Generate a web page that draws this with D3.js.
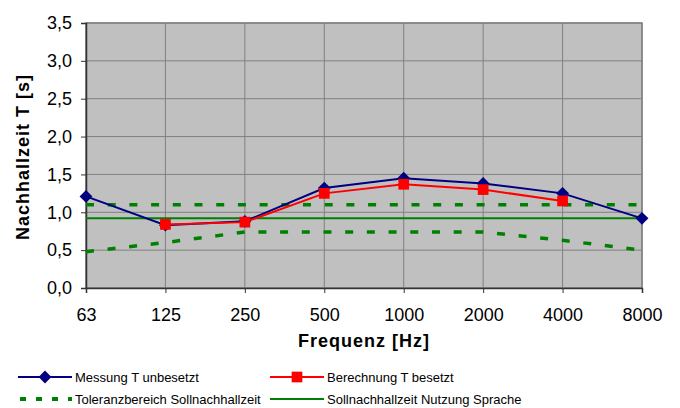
<!DOCTYPE html>
<meta charset="utf-8">
<style>
body { margin: 0; background: #fff; }
text { font-family: "Liberation Sans", Arial, sans-serif; }
</style>
<body>
<script src="https://d3js.org/d3.v7.min.js"></script>
<script>

// data
var freqs = ["63", "125", "250", "500", "1000", "2000", "4000", "8000"];
var messung = [1.21, 0.83, 0.88, 1.32, 1.45, 1.38, 1.25, 0.92];
var berechnung = [null, 0.84, 0.87, 1.25, 1.37, 1.30, 1.15, null];
var tolOben = [1.1, 1.1, 1.1, 1.1, 1.1, 1.1, 1.1, 1.1];
var tolUnten = [0.48, 0.6, 0.74, 0.74, 0.74, 0.74, 0.63, 0.5];
var soll = [0.92, 0.92, 0.92, 0.92, 0.92, 0.92, 0.92, 0.92];
var yTicks = [0, 0.5, 1, 1.5, 2, 2.5, 3, 3.5];

var margin = {top: 23, right: 38, bottom: 120, left: 86},
    width = 680 - margin.left - margin.right,
    height = 408 - margin.top - margin.bottom;

var svg = d3.select("body").append("svg")
    .attr("width", 680)
    .attr("height", 408);

var g = svg.append("g")
    .attr("transform", "translate(" + margin.left + "," + margin.top + ")");

var x = d3.scalePoint().domain(freqs).range([0, width]);
var y = d3.scaleLinear().domain([0, 3.5]).range([height, 0]);

// plot background
g.append("rect")
    .attr("width", width).attr("height", height)
    .attr("fill", "#c0c0c0");

// grid
g.selectAll(".hgrid").data(yTicks).enter().append("line")
    .attr("x1", 0).attr("x2", width)
    .attr("y1", function(d) { return y(d); }).attr("y2", function(d) { return y(d); })
    .attr("stroke", "#808080").attr("stroke-width", 1);
g.selectAll(".vgrid").data(freqs).enter().append("line")
    .attr("x1", function(d) { return x(d); }).attr("x2", function(d) { return x(d); })
    .attr("y1", 0).attr("y2", height)
    .attr("stroke", "#808080").attr("stroke-width", 1);

// border right/top
g.append("rect")
    .attr("width", width).attr("height", height)
    .attr("fill", "none").attr("stroke", "#808080").attr("stroke-width", 1.5);

// axes
var yAxis = g.append("g")
    .call(d3.axisLeft(y).tickValues(yTicks).tickSize(5).tickPadding(9)
      .tickFormat(function(d) { return d3.format(".1f")(d).replace(".", ","); }));
var xAxis = g.append("g")
    .attr("transform", "translate(0," + height + ")")
    .call(d3.axisBottom(x).tickSize(5).tickPadding(15));
[yAxis, xAxis].forEach(function(a) {
  a.select(".domain").attr("stroke", "#333").attr("stroke-width", 1.5);
  a.selectAll(".tick line").attr("stroke", "#333");
  a.selectAll("text").attr("font-size", 18).attr("fill", "#000")
    .style("font-family", "'Liberation Sans', Arial, sans-serif");
});

// lines
function lineFor(vals) {
  return d3.line()
    .defined(function(d, i) { return vals[i] != null; })
    .x(function(d, i) { return x(freqs[i]); })
    .y(function(d, i) { return y(vals[i]); })(vals);
}

[tolOben, tolUnten].forEach(function(v) {
  g.append("path").attr("d", lineFor(v))
    .attr("fill", "none").attr("stroke", "#008000").attr("stroke-width", 3.5)
    .attr("stroke-dasharray", "8,13.7");
});
g.append("path").attr("d", lineFor(soll))
    .attr("fill", "none").attr("stroke", "#008000").attr("stroke-width", 2);

var diamond = d3.symbol().type(d3.symbolDiamond2).size(105);
var square = d3.symbol().type(d3.symbolSquare).size(115);

g.append("path").attr("d", lineFor(messung))
    .attr("fill", "none").attr("stroke", "#000080").attr("stroke-width", 2);
g.selectAll(".mess").data(messung).enter().append("path")
    .attr("d", diamond)
    .attr("transform", function(d, i) { return "translate(" + x(freqs[i]) + "," + y(d) + ")"; })
    .attr("fill", "#000080");

g.append("path").attr("d", lineFor(berechnung))
    .attr("fill", "none").attr("stroke", "#ff0000").attr("stroke-width", 2);
g.selectAll(".ber").data(berechnung.filter(function(d) { return d != null; })).enter().append("path")
    .attr("d", square)
    .attr("transform", function(d) {
      var i = berechnung.indexOf(d);
      return "translate(" + x(freqs[i]) + "," + y(d) + ")"; })
    .attr("fill", "#ff0000");

// axis titles
svg.append("text")
    .attr("x", 364).attr("y", 347)
    .attr("text-anchor", "middle")
    .attr("font-size", 18).attr("font-weight", "bold")
    .attr("letter-spacing", 1)
    .text("Frequenz [Hz]");
svg.append("text")
    .attr("transform", "translate(29,157) rotate(-90)")
    .attr("text-anchor", "middle")
    .attr("font-size", 18).attr("font-weight", "bold")
    .attr("letter-spacing", 1)
    .text("Nachhallzeit T [s]");

// legend
var legend = [
  {label: "Messung T unbesetzt", color: "#000080", x: 18, y: 377, marker: "diamond", width: 2},
  {label: "Berechnung T besetzt", color: "#ff0000", x: 270, y: 377, marker: "square", width: 2},
  {label: "Toleranzbereich Sollnachhallzeit", color: "#008000", x: 18, y: 399, dash: true, width: 4},
  {label: "Sollnachhallzeit Nutzung Sprache", color: "#008000", x: 270, y: 399, width: 2}
];
legend.forEach(function(l) {
  var lg = svg.append("g").attr("transform", "translate(" + l.x + "," + l.y + ")");
  lg.append("line").attr("x1", l.dash ? 2 : 0).attr("x2", 54).attr("y1", 0).attr("y2", 0)
    .attr("stroke", l.color).attr("stroke-width", l.width)
    .attr("stroke-dasharray", l.dash ? "6,10" : null);
  if (l.marker === "diamond")
    lg.append("path").attr("d", diamond).attr("transform", "translate(27,0)").attr("fill", l.color);
  if (l.marker === "square")
    lg.append("path").attr("d", square).attr("transform", "translate(27,0)").attr("fill", l.color);
  lg.append("text").attr("x", 57).attr("y", 4.5)
    .attr("font-size", 13).text(l.label);
});

</script>
</body>
